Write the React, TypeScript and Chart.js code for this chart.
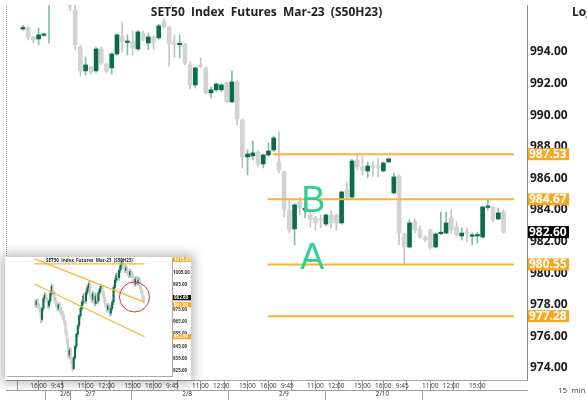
import React, { useEffect, useRef } from 'react';
import { Chart, registerables } from 'chart.js';
Chart.register(...registerables);

// ---------------- main chart data (15 min bars, 2/6 15:45 -> 2/10) ----------------
const opens = [
  995.45, 995.52, 994.95, 994.82, 995.05, 997.3, 998.2, 998.8, 998.0, 997.6,
  996.66, 994.32, 992.8, 993.05, 992.8, 994.19, 993.24, 992.99, 993.87, 995.0,
  994.6, 994.63, 994.19, 995.2, 994.57, 994.95, 994.89, 995.96, 995.58, 994.52,
  994.45, 994.5, 993.18, 991.91, 993.12, 992.99, 991.41, 991.6, 991.6, 992.04,
  990.84, 992.1, 989.7, 987.35, 987.42, 987.67, 986.91, 987.48, 987.8, 987.04,
  986.4, 984.0, 982.8, 984.5, 984.0, 983.68, 983.5, 983.4, 983.11, 983.68,
  983.68, 983.18, 985.27, 984.82, 987.16, 986.72, 986.47, 986.75, 986.74, 986.47,
  987.04, 985.08, 986.15, 982.48, 981.66, 983.24, 982.8, 982.29, 982.73, 981.66,
  982.5, 982.54, 983.49, 982.92, 982.35, 982.56, 982.33, 982.35, 982.29, 984.16,
  984.19, 983.43, 983.87,
];
const highs = [
  995.7, 995.6, 995.0, 995.52, 995.15, 998.5, 999.2, 999.0, 998.3, 998.0,
  997.2, 994.4, 993.68, 993.1, 994.3, 994.32, 993.3, 993.95, 995.15, 995.9,
  995.08, 995.33, 995.35, 995.3, 995.2, 995.0, 995.75, 996.09, 995.6, 995.08,
  995.08, 994.55, 993.37, 993.05, 993.62, 993.05, 991.78, 992.05, 992.0, 992.1,
  992.8, 992.15, 989.76, 987.8, 988.37, 987.75, 987.55, 988.24, 988.68, 988.94,
  986.45, 984.63, 984.4, 984.8, 984.5, 983.9, 983.6, 983.68, 983.75, 983.94,
  983.75, 985.2, 985.77, 987.2, 987.54, 987.4, 987.04, 987.04, 987.29, 987.04,
  987.3, 986.34, 986.2, 982.5, 983.37, 983.43, 983.0, 982.35, 982.8, 982.55,
  983.87, 983.87, 984.0, 983.24, 982.86, 982.86, 982.54, 982.6, 984.25, 984.7,
  984.25, 984.13, 984.0,
];
const lows = [
  995.4, 994.76, 994.57, 994.44, 995.0, 994.57, 997.8, 997.9, 997.5, 996.6,
  994.13, 992.48, 992.54, 992.6, 992.7, 993.2, 992.67, 992.6, 993.8, 994.0,
  993.8, 993.8, 994.1, 994.7, 994.13, 994.13, 994.8, 995.5, 993.11, 993.68,
  993.62, 993.2, 991.66, 991.72, 992.99, 991.35, 991.09, 991.5, 991.5, 990.8,
  990.8, 989.38, 986.66, 986.22, 987.16, 986.72, 986.66, 987.4, 987.7, 986.34,
  983.56, 982.54, 981.78, 983.7, 983.5, 982.92, 982.73, 982.86, 983.0, 982.86,
  982.73, 983.1, 984.7, 984.75, 986.53, 986.2, 986.03, 986.09, 986.09, 986.4,
  987.0, 985.0, 981.78, 980.52, 981.6, 982.54, 982.2, 981.98, 981.5, 981.6,
  982.42, 982.5, 982.54, 982.35, 982.1, 981.97, 981.78, 981.9, 982.2, 984.0,
  983.24, 983.4, 982.54,
];
const closes = [
  995.55, 994.95, 994.76, 995.08, 995.1, 998.0, 998.8, 998.0, 997.7, 996.9,
  994.44, 992.8, 993.18, 992.73, 994.19, 993.3, 992.8, 993.87, 995.08, 994.63,
  994.66, 994.25, 995.27, 994.76, 994.95, 994.63, 995.65, 995.58, 994.5, 994.48,
  994.55, 993.3, 991.91, 992.99, 993.08, 991.41, 991.6, 991.97, 991.91, 990.84,
  992.1, 989.76, 987.35, 987.54, 987.61, 986.91, 987.48, 987.73, 988.56, 986.53,
  984.0, 982.73, 984.32, 984.1, 984.1, 983.37, 983.18, 983.35, 983.68, 983.18,
  983.18, 985.14, 984.82, 987.1, 986.72, 986.53, 986.78, 986.7, 986.68, 986.97,
  987.23, 986.09, 982.54, 981.66, 983.18, 982.73, 982.29, 982.1, 981.6, 982.48,
  982.56, 983.18, 982.73, 982.42, 982.54, 982.52, 982.38, 982.4, 984.19, 984.22,
  983.37, 983.81, 982.6,
];

const timeTickIndex = [1, 5, 10, 14, 19, 23, 27, 32, 36, 41, 45, 49, 54, 58, 63, 67, 71, 76, 80, 85];
const timeTickLabels = ['16:00', '9:45', '11:00', '12:00', '15:00', '16:00', '9:45', '11:00', '12:00', '15:00', '16:00',
  '9:45', '11:00', '12:00', '15:00', '16:00', '9:45', '11:00', '12:00', '15:00'];
const dateTickIndex = [-0.75, 5, 27, 49, 71];
const dateTickLabels = ['2/6', '2/7', '2/8', '2/9', '2/10'];
const yTicks = [974, 976, 978, 980, 982, 984, 986, 988, 990, 992, 994];
const levels = [987.53, 984.67, 980.55, 977.28];
const levelStart = [47.8, 46.8, 46.8, 46.9];
const lastPrice = 982.6;
const xMin = -0.75;
const xMax = 94;
const yMin = 973.24;
const yMax = 996.97;
const marks = [
  { text: 'B', x: 53.3, y: 983.87 },
  { text: 'A', x: 53.1, y: 980.27 },
];
const title = 'SET50  Index  Futures  Mar-23  (S50H23)';

// ---------------- inset chart data ----------------
const insetOpens = [
  981, 979, 982, 978, 975, 967, 976, 984, 987, 983,
  978, 982, 988, 994, 989, 983, 979, 976, 979, 974,
  972, 969, 965, 957, 949, 938, 942, 933, 927, 936,
  945, 955, 962, 970, 976, 981, 986, 982, 989, 993,
  996, 986, 983, 988, 980, 986, 982, 989, 992, 994,
  988, 983, 979, 975, 978, 972, 976, 981, 993, 999,
  1003, 1001, 1007, 1011, 1014, 1010, 1007, 1009, 1005, 1003,
  1006, 1003, 999, 996, 1000, 997, 999, 994, 990, 985,
];
const insetHighs = [
  983, 983, 984, 980, 977, 977, 986, 989, 988, 985,
  983, 990, 996, 995, 990, 985, 981, 980, 981, 976,
  974, 971, 966, 959, 951, 944, 944, 935, 937, 946,
  956, 963, 971, 978, 983, 988, 988, 991, 995, 998,
  997, 988, 990, 989, 988, 987, 991, 994, 996, 995,
  990, 985, 980, 980, 979, 978, 983, 995, 1001, 1005,
  1005, 1009, 1013, 1015.93, 1015, 1011, 1011, 1010, 1006, 1008,
  1007, 1004, 1000, 1002, 1002, 1001, 1001, 996, 991, 986,
];
const insetLows = [
  977, 977, 976, 973, 964, 965, 974, 982, 981, 976,
  976, 980, 986, 987, 981, 977, 974, 974, 972, 970,
  967, 963, 955, 947, 936, 935, 931, 925, 926, 934,
  943, 953, 960, 968, 974, 979, 980, 980, 987, 991,
  984, 981, 981, 978, 978, 980, 980, 987, 990, 986,
  981, 977, 973, 973, 970, 970, 974, 979, 991, 997,
  999, 999, 1005, 1009, 1008, 1005, 1005, 1003, 1001, 1001,
  1001, 997, 994, 994, 995, 995, 992, 988, 983, 980,
];
const insetCloses = [
  979, 982, 978, 975, 967, 976, 984, 987, 983, 978,
  982, 988, 994, 989, 983, 979, 976, 979, 974, 972,
  969, 965, 957, 949, 938, 942, 933, 927, 936, 945,
  955, 962, 970, 976, 981, 986, 982, 989, 993, 996,
  986, 983, 988, 980, 986, 982, 989, 992, 994, 988,
  983, 979, 975, 978, 972, 976, 981, 993, 999, 1003,
  1001, 1007, 1011, 1014, 1010, 1007, 1009, 1005, 1003, 1006,
  1003, 999, 996, 1000, 997, 999, 994, 990, 985, 982.6,
];
const insetYTicks = [925, 930, 935, 940, 945, 950, 955, 960, 965, 970, 975, 980, 985, 990, 995, 1000, 1005, 1010];
const insetLines = [
  { x0: -0.5, y0: 1012.2, x1: 79.5, y1: 1012.2 },
  { x0: -0.5, y0: 1016.3, x1: 79.5, y1: 981.09 },
  { x0: -0.5, y0: 995.9, x1: 79.5, y1: 952.99 },
];
const insetOrangeTags = [1015.93, 981.09, 952.99];
const insetLast = 982.6;
const insetCircle = { x: 72.2, y: 985.3, r: 15 };

// ---------------- styles ----------------
const GREEN = '#0c6b4e';
const GREY = '#d2d2d2';
const GREEN_WICK = '#7fbea7';
const GREY_WICK = '#c4c4c4';
const LINE_ORANGE = '#fdb236';
const TAG_ORANGE = '#f9a51e';
const MARK_GREEN = '#33cf90';
const FONT = '"Open Sans", "DejaVu Sans", sans-serif';

function candleDatasets(o: number[], h: number[], l: number[], c: number[], bodyW: number, wickW: number) {
  const up = o.map((v, i) => c[i] > v);
  return [
    {
      type: 'bar',
      data: o.map((v, i) => ({ x: i, y: [l[i], h[i]] })),
      backgroundColor: up.map((u) => (u ? GREEN_WICK : GREY_WICK)),
      barThickness: wickW,
      grouped: false,
      order: 3,
      clip: 0,
    },
    {
      type: 'bar',
      data: o.map((v, i) => ({ x: i, y: [v, c[i]] })),
      backgroundColor: up.map((u) => (u ? GREEN : GREY)),
      barThickness: bodyW,
      minBarLength: 1.5,
      grouped: false,
      order: 2,
      clip: 0,
    },
  ];
}

function tag(ctx: CanvasRenderingContext2D, x: number, y: number, w: number, h: number, bg: string, text: string, font: string) {
  ctx.fillStyle = bg;
  ctx.fillRect(x, y - h / 2, w, h);
  ctx.fillStyle = '#ffffff';
  ctx.font = font;
  ctx.textAlign = 'left';
  ctx.textBaseline = 'middle';
  ctx.fillText(text, x + 1, y + 0.5);
}

const noPadY = (w: number) => (s: any) => {
  s.width = w;
  s.paddingTop = 0;
  s.paddingBottom = 0;
};
const noPadX = (h: number) => (s: any) => {
  s.height = h;
  s.paddingLeft = 0;
  s.paddingRight = 0;
};

const mainOverlay = {
  id: 'mainOverlay',
  afterDatasetsDraw(chart: any) {
    const { ctx, chartArea: a, scales } = chart;
    const ys = scales.y;
    const xs = scales.x;
    ctx.save();
    ctx.strokeStyle = '#9a9a9a';
    ctx.lineWidth = 1;
    ctx.setLineDash([1, 1]);
    ctx.beginPath();
    ctx.moveTo(a.left + 0.5, a.top);
    ctx.lineTo(a.left + 0.5, a.bottom);
    ctx.stroke();
    ctx.setLineDash([]);
    ctx.fillStyle = '#222';
    ctx.font = `bold 12px ${FONT}`;
    ctx.textAlign = 'center';
    ctx.textBaseline = 'middle';
    ctx.fillText(title, (a.left + a.right) / 2, 13);
    ctx.fillStyle = MARK_GREEN;
    ctx.font = '36px "Liberation Sans", Arial, sans-serif';
    ctx.textAlign = 'left';
    ctx.textBaseline = 'alphabetic';
    marks.forEach((m) => ctx.fillText(m.text, xs.getPixelForValue(m.x), ys.getPixelForValue(m.y)));
    const tf = `bold 12px ${FONT}`;
    levels.forEach((v) => tag(ctx, a.right + 1, ys.getPixelForValue(v), 41, 12, TAG_ORANGE, v.toFixed(2), tf));
    tag(ctx, a.right + 1, ys.getPixelForValue(lastPrice), 41, 12, '#000000', lastPrice.toFixed(2), tf);
    ctx.fillStyle = '#222';
    ctx.font = `bold 12px ${FONT}`;
    ctx.textAlign = 'left';
    ctx.textBaseline = 'middle';
    ctx.fillText('Log', a.right + 45, 13);
    ctx.fillStyle = '#444';
    ctx.font = `8px ${FONT}`;
    ctx.fillText('15  min', a.right + 31, 391);
    ctx.restore();
  },
};

const insetOverlay = {
  id: 'insetOverlay',
  afterDatasetsDraw(chart: any) {
    const { ctx, chartArea: a, scales } = chart;
    const ys = scales.y;
    const xs = scales.x;
    ctx.save();
    ctx.fillStyle = '#222';
    ctx.font = `bold 4.5px ${FONT}`;
    ctx.textAlign = 'center';
    ctx.textBaseline = 'middle';
    ctx.fillText(title, (a.left + a.right) / 2, 3.5);
    ctx.strokeStyle = '#d8343c';
    ctx.lineWidth = 1;
    ctx.beginPath();
    ctx.arc(xs.getPixelForValue(insetCircle.x), ys.getPixelForValue(insetCircle.y), insetCircle.r, 0, Math.PI * 2);
    ctx.stroke();
    const tf = `bold 4.5px ${FONT}`;
    insetOrangeTags.forEach((v) => {
      const off = v === 981.09 ? 2.6 : 0;
      tag(ctx, a.right + 1, ys.getPixelForValue(v) + off, 18, 5.2, TAG_ORANGE, v.toFixed(2), tf);
    });
    tag(ctx, a.right + 1, ys.getPixelForValue(insetLast) - 2.6, 18, 5.2, '#000000', insetLast.toFixed(2), tf);
    ctx.restore();
  },
};

function mainConfig(): any {
  const lineSets = levels.map((v, i) => ({
    type: 'line',
    data: [{ x: levelStart[i], y: v }, { x: xMax, y: v }],
    borderColor: LINE_ORANGE,
    borderWidth: 2,
    pointRadius: 0,
    order: 0,
    clip: 0,
  }));
  const axisFont = { family: FONT, size: 6.5 };
  return {
    type: 'bar',
    data: { datasets: [...candleDatasets(opens, highs, lows, closes, 4, 1), ...lineSets] },
    options: {
      responsive: false,
      animation: false,
      events: [],
      layout: { padding: { left: 6, top: 5, right: 0, bottom: 1 } },
      plugins: { legend: { display: false }, tooltip: { enabled: false } },
      scales: {
        x: {
          type: 'linear',
          position: 'bottom',
          weight: 0,
          min: xMin,
          max: xMax,
          afterBuildTicks: (s: any) => { s.ticks = timeTickIndex.map((v) => ({ value: v })); },
          afterFit: noPadX(10),
          ticks: {
            autoSkip: false, maxRotation: 0, minRotation: 0, align: 'start', labelOffset: 2, padding: -8,
            color: '#333', font: axisFont,
            callback: (_v: any, i: number) => timeTickLabels[i],
          },
          grid: { display: true, drawOnChartArea: false, drawTicks: true, tickLength: 10, color: '#a0a0a0', lineWidth: 1 },
          border: { display: true, color: '#a0a0a0' },
        },
        x2: {
          type: 'linear',
          axis: 'x',
          position: 'bottom',
          weight: 1,
          min: xMin,
          max: xMax,
          afterBuildTicks: (s: any) => { s.ticks = dateTickIndex.map((v) => ({ value: v })); },
          afterFit: noPadX(10),
          ticks: {
            autoSkip: false, maxRotation: 0, minRotation: 0, align: 'start', labelOffset: 2, padding: -10,
            color: '#333', font: axisFont,
            callback: (_v: any, i: number) => dateTickLabels[i],
          },
          grid: { display: true, drawOnChartArea: false, drawTicks: true, tickLength: 10, color: '#a0a0a0', lineWidth: 1 },
          border: { display: true, color: '#a0a0a0' },
        },
        y: {
          type: 'linear',
          position: 'right',
          min: yMin,
          max: yMax,
          afterBuildTicks: (s: any) => { s.ticks = yTicks.map((v) => ({ value: v })); },
          afterFit: noPadY(60),
          ticks: {
            padding: 3, color: '#1a1a1a', font: { family: FONT, size: 12, weight: 'bold' },
            callback: (v: any) => Number(v).toFixed(2),
          },
          grid: { display: false, drawTicks: false },
          border: { display: true, color: '#8c8c8c', dash: [1, 1] },
        },
      },
    },
    plugins: [mainOverlay],
  };
}

function insetConfig(): any {
  const lineSets = insetLines.map((l) => ({
    type: 'line',
    data: [{ x: l.x0, y: l.y0 }, { x: l.x1, y: l.y1 }],
    borderColor: LINE_ORANGE,
    borderWidth: 1.2,
    pointRadius: 0,
    order: 0,
    clip: 0,
  }));
  return {
    type: 'bar',
    data: { datasets: [...candleDatasets(insetOpens, insetHighs, insetLows, insetCloses, 1.4, 0.7), ...lineSets] },
    options: {
      responsive: false,
      animation: false,
      events: [],
      layout: { padding: { left: 2, top: 1, right: 0, bottom: 4 } },
      plugins: { legend: { display: false }, tooltip: { enabled: false } },
      scales: {
        x: {
          type: 'linear',
          min: -0.5,
          max: 79.5,
          afterFit: noPadX(0),
          ticks: { display: false },
          grid: { display: false },
          border: { display: true, color: '#aaaaaa' },
        },
        y: {
          type: 'linear',
          position: 'right',
          min: 921,
          max: 1017,
          afterBuildTicks: (s: any) => { s.ticks = insetYTicks.map((v) => ({ value: v })); },
          afterFit: noPadY(19),
          ticks: {
            padding: 1, color: '#333', font: { family: FONT, size: 4.5, weight: 'bold' },
            callback: (v: any) => Number(v).toFixed(2),
          },
          grid: { display: false, drawTicks: false },
          border: { display: true, color: '#aaaaaa' },
        },
      },
    },
    plugins: [insetOverlay],
  };
}

export default function App() {
  const mainRef = useRef<HTMLCanvasElement>(null);
  const insetRef = useRef<HTMLCanvasElement>(null);
  useEffect(() => {
    const c1 = new Chart(mainRef.current as HTMLCanvasElement, mainConfig());
    const c2 = new Chart(insetRef.current as HTMLCanvasElement, insetConfig());
    return () => {
      c1.destroy();
      c2.destroy();
    };
  }, []);
  return (
    <div style={{ position: 'fixed', left: 0, top: 0, width: 587, height: 401, background: '#fff', overflow: 'hidden' }}>
      <canvas ref={mainRef} width={587} height={401} style={{ position: 'absolute', left: 0, top: 0, width: 587, height: 401 }} />
      <div
        style={{
          position: 'absolute', left: 5, top: 257, width: 186, height: 123, background: '#fff',
          boxShadow: '0 0 10px 3px rgba(0,0,0,0.28)',
        }}
      >
        <canvas ref={insetRef} width={186} height={123} style={{ display: 'block', width: 186, height: 123 }} />
      </div>
    </div>
  );
}
